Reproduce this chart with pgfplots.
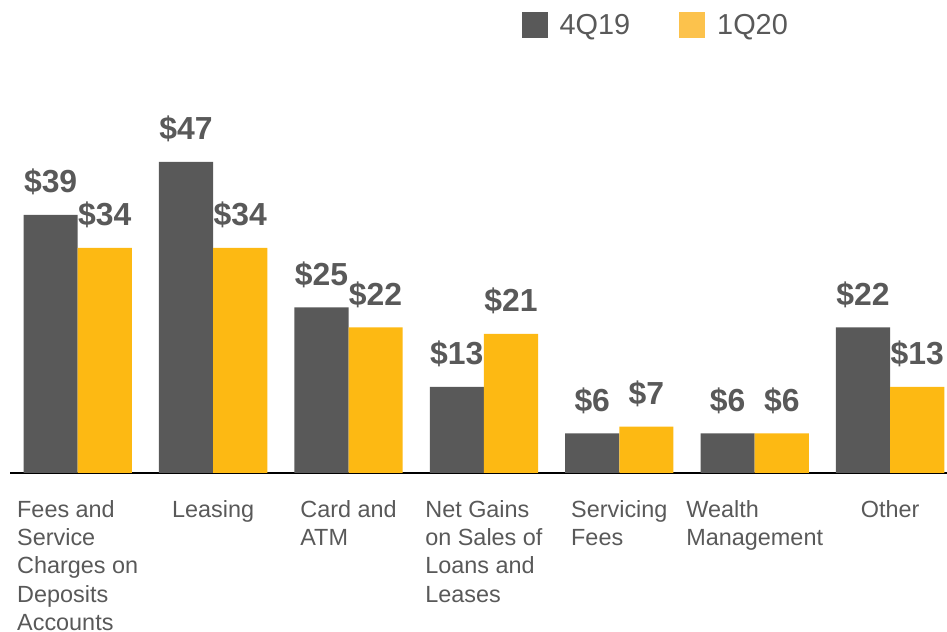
\documentclass[border=0pt]{standalone}
\usepackage{pgfplots}
\pgfplotsset{compat=1.18}
\usepackage{fontspec}
\setmainfont{Liberation Sans}
\definecolor{dgray}{HTML}{595959}
\definecolor{gold}{HTML}{FDB913}
\definecolor{goldlt}{HTML}{FCC24C}
\definecolor{txt}{HTML}{595959}
\begin{document}
\begin{tikzpicture}
\path[use as bounding box] (0,0) rectangle (947bp,632bp);
\begin{axis}[
  at={(10bp,159bp)}, anchor=south west,
  scale only axis, width=937bp, height=331bp,
  ymin=0, ymax=50, xmin=-0.5, xmax=6.42,
  axis x line*=bottom, axis y line=none,
  x axis line style={-, line width=2.5bp, black},
  major tick length=0pt,
  xtick=data,
  xticklabels={{Fees and\\Service\\Charges on\\Deposits\\Accounts}, Leasing, {Card and\\ATM}, {Net Gains\\on Sales of\\Loans and\\Leases}, {Servicing\\Fees}, {Wealth\\Management}, Other},
  xticklabel style={align=left, anchor=north, inner sep=0pt, yshift=-27bp, text=txt, font=\fontsize{23.5}{28.5}\selectfont},
  ybar=0pt, bar width=0.4,
  clip=false,
  /pgf/number format/assume math mode=true,
  nodes near coords={\$\pgfmathprintnumber{\pgfplotspointmeta}},
  every node near coord/.append style={font=\fontsize{32}{36}\selectfont\bfseries, text=txt, anchor=base, yshift=22bp, inner sep=0pt},
  legend style={at={(0.5425,1.353)}, anchor=west, draw=none, fill=none, legend columns=2,
    font=\fontsize{29}{34}\selectfont, text=txt, nodes={inner sep=0pt},
    /tikz/every odd column/.append style={column sep=12bp},
    /tikz/every even column/.append style={column sep=49bp}},
  legend image code/.code={\path[#1] (0bp,-13bp) rectangle (26bp,13bp);},
]
\addplot[fill=dgray, draw=none, legend image post style={draw=gray!85!white, line width=1.5bp}] coordinates {(0,39) (1,47) (2,25) (3,13) (4,6) (5,6) (6,22)};
\addplot[fill=gold, draw=none, legend image post style={fill=goldlt}] coordinates {(0,34) (1,34) (2,22) (3,21) (4,7) (5,6) (6,13)};
\legend{4Q19, 1Q20}
\end{axis}
\end{tikzpicture}
\end{document}
